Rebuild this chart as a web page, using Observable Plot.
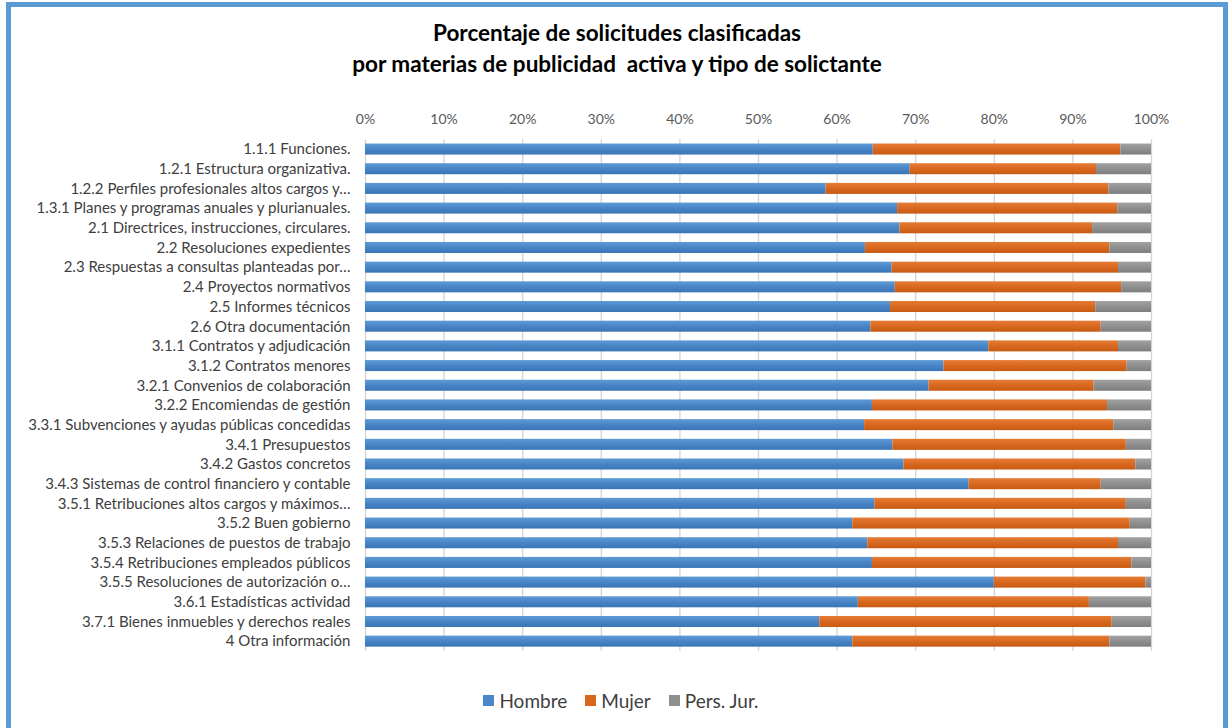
<!DOCTYPE html>
<html>
<head>
<meta charset="utf-8">
<script src="https://cdn.jsdelivr.net/npm/d3@7"></script>
<script src="https://cdn.jsdelivr.net/npm/@observablehq/plot@0.6"></script>
<style>
  html, body { margin: 0; padding: 0; background: #fff; overflow: hidden; }
  #frame { position: absolute; left: 6px; top: 2px; width: 1212px; height: 760px; border: 5px solid #5B9BD5; background: #fff; font-family: Lato, "Open Sans", sans-serif; }
  #title { position: absolute; left: 0; top: 10px; width: 1212px; text-align: center; font-weight: bold; font-size: 22.5px; line-height: 31px; color: #000; white-space: pre; }
  #chart { position: absolute; left: 0; top: 93px; }
  #legend { position: absolute; left: 0; top: 682px; width: 1212px; display: flex; justify-content: center; gap: 18px; font-size: 19px; line-height: 23px; color: #404040; box-sizing: border-box; transform: translateX(4px); }
  .item { display: flex; align-items: center; gap: 5px; }
  .sw { width: 11px; height: 11px; display: inline-block; }
</style>
</head>
<body>
<div id="frame">
  <div id="title">Porcentaje de solicitudes clasificadas
por materias de publicidad  activa y tipo de solictante</div>
  <div id="chart"></div>
  <div id="legend"></div>
</div>
<script>
const categories = [
  "1.1.1 Funciones.",
  "1.2.1 Estructura organizativa.",
  "1.2.2 Perfiles profesionales altos cargos y…",
  "1.3.1 Planes y programas anuales y plurianuales.",
  "2.1 Directrices, instrucciones, circulares.",
  "2.2 Resoluciones expedientes",
  "2.3 Respuestas a consultas planteadas por…",
  "2.4 Proyectos normativos",
  "2.5 Informes técnicos",
  "2.6 Otra documentación",
  "3.1.1 Contratos y adjudicación",
  "3.1.2 Contratos menores",
  "3.2.1 Convenios de colaboración",
  "3.2.2 Encomiendas de gestión",
  "3.3.1 Subvenciones y ayudas públicas concedidas",
  "3.4.1 Presupuestos",
  "3.4.2 Gastos concretos",
  "3.4.3 Sistemas de control financiero y contable",
  "3.5.1 Retribuciones altos cargos y máximos…",
  "3.5.2 Buen gobierno",
  "3.5.3 Relaciones de puestos de trabajo",
  "3.5.4 Retribuciones empleados públicos",
  "3.5.5 Resoluciones de autorización o…",
  "3.6.1 Estadísticas actividad",
  "3.7.1 Bienes inmuebles y derechos reales",
  "4 Otra información"
];
const series = ["Hombre", "Mujer", "Pers. Jur."];
const hombre = [64.6, 69.3, 58.6, 67.7, 68.0, 63.6, 67.0, 67.4, 66.8, 64.3, 79.3, 73.6, 71.7, 64.5, 63.5, 67.1, 68.5, 76.8, 64.8, 62.0, 63.9, 64.5, 80.0, 62.7, 57.8, 62.0];
const mujer  = [31.5, 23.7, 36.0, 28.0, 24.5, 31.1, 28.8, 28.8, 26.1, 29.3, 16.5, 23.3, 21.0, 29.9, 31.7, 29.7, 29.5, 16.8, 32.0, 35.3, 31.9, 33.0, 19.3, 29.4, 37.2, 32.7];
const persJur = [3.9, 7.0, 5.4, 4.3, 7.5, 5.3, 4.2, 3.8, 7.1, 6.4, 4.2, 3.1, 7.3, 5.6, 4.8, 3.2, 2.0, 6.4, 3.2, 2.7, 4.2, 2.5, 0.7, 7.9, 5.0, 5.3];
const xTicks = [0, 10, 20, 30, 40, 50, 60, 70, 80, 90, 100];

const colors = ["#4A88C8", "#D9681F", "#8F8F8F"];
const grads = [
  ["#5E9BD6", "#4985C6", "#3A76B6"],
  ["#E57C36", "#D9681F", "#C75A13"],
  ["#A2A2A2", "#8F8F8F", "#7E7E7E"]
];

const rows = [];
const vals = [hombre, mujer, persJur];
categories.forEach((c, i) => {
  series.forEach((s, j) => rows.push({cat: c, type: s, value: vals[j][i]}));
});

const plot = Plot.plot({
  width: 1212,
  height: 561,
  marginLeft: 354,
  marginRight: 72,
  marginTop: 39.2,
  marginBottom: 10,
  style: {fontFamily: "Lato, 'Open Sans', sans-serif", background: "transparent"},
  x: {domain: [0, 100], label: null},
  y: {domain: categories, paddingInner: 0.44, paddingOuter: 0.22, round: false, label: null},
  color: {domain: series, range: colors},
  marks: [
    Plot.gridX(xTicks, {stroke: "#D4D4D4", strokeOpacity: 1, strokeWidth: 1.3}),
    Plot.barX(rows, Plot.stackX({y: "cat", x: "value", fill: "type", order: series})),
    Plot.axisX(xTicks, {anchor: "top", tickSize: 0, tickPadding: 16, tickFormat: d => d + "%", fontSize: 14, fill: "#595959", label: null}),
    Plot.axisY({anchor: "left", tickSize: 0, tickPadding: 15, fontSize: 15, fill: "#404040", label: null})
  ]
});

// subtle vertical gradients like the original
const ns = "http://www.w3.org/2000/svg";
const defs = document.createElementNS(ns, "defs");
grads.forEach((g, k) => {
  const lg = document.createElementNS(ns, "linearGradient");
  lg.setAttribute("id", "grad" + k);
  lg.setAttribute("x1", "0"); lg.setAttribute("y1", "0");
  lg.setAttribute("x2", "0"); lg.setAttribute("y2", "1");
  [[0, g[0]], [0.5, g[1]], [1, g[2]]].forEach(([o, c]) => {
    const st = document.createElementNS(ns, "stop");
    st.setAttribute("offset", o);
    st.setAttribute("stop-color", c);
    lg.appendChild(st);
  });
  defs.appendChild(lg);
});
plot.insertBefore(defs, plot.firstChild);
plot.querySelectorAll("rect").forEach(r => {
  const f = (r.getAttribute("fill") || "").toLowerCase();
  const k = colors.findIndex(c => c.toLowerCase() === f);
  if (k >= 0) r.setAttribute("fill", "url(#grad" + k + ")");
});

document.getElementById("chart").appendChild(plot);

const legend = document.getElementById("legend");
series.forEach((s, j) => {
  const it = document.createElement("div");
  it.className = "item";
  const sw = document.createElement("span");
  sw.className = "sw";
  sw.style.background = colors[j];
  const t = document.createElement("span");
  t.textContent = s;
  it.appendChild(sw);
  it.appendChild(t);
  legend.appendChild(it);
});
</script>
</body>
</html>
